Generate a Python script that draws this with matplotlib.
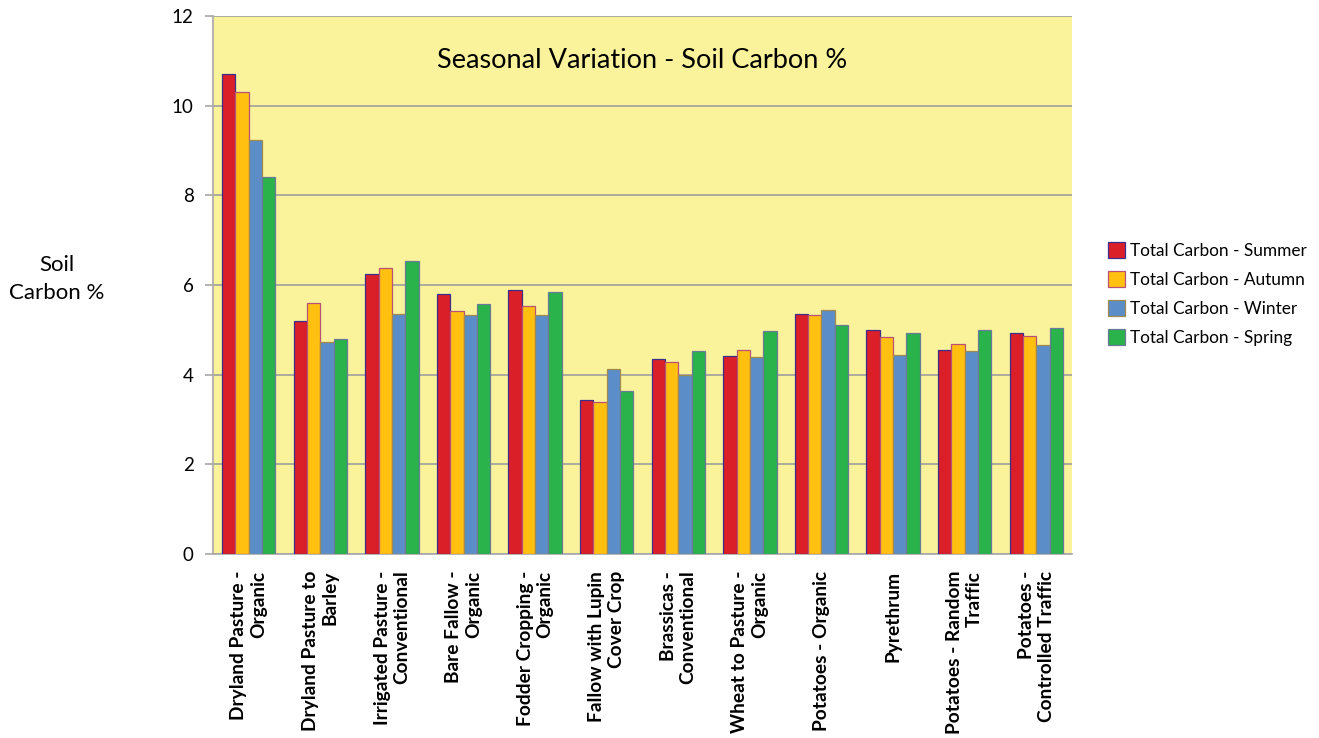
import matplotlib
matplotlib.use("Agg")
import matplotlib.pyplot as plt
import numpy as np

plt.rcParams['font.family'] = ['Lato', 'DejaVu Sans']

categories = [
    "Dryland Pasture -\nOrganic",
    "Dryland Pasture to\nBarley",
    "Irrigated Pasture -\nConventional",
    "Bare Fallow -\nOrganic",
    "Fodder Cropping -\nOrganic",
    "Fallow with Lupin\nCover Crop",
    "Brassicas -\nConventional",
    "Wheat to Pasture -\nOrganic",
    "Potatoes - Organic",
    "Pyrethrum",
    "Potatoes - Random\nTraffic",
    "Potatoes -\nControlled Traffic",
]

summer = [10.70, 5.20, 6.25, 5.80, 5.89, 3.44, 4.36, 4.42, 5.35, 5.00, 4.56, 4.93]
autumn = [10.30, 5.59, 6.39, 5.41, 5.53, 3.38, 4.29, 4.54, 5.33, 4.83, 4.69, 4.86]
winter = [9.23, 4.73, 5.35, 5.32, 5.32, 4.13, 3.99, 4.40, 5.44, 4.44, 4.52, 4.66]
spring = [8.40, 4.79, 6.53, 5.57, 5.85, 3.63, 4.52, 4.98, 5.10, 4.93, 5.00, 5.03]

series_names = [
    "Total Carbon - Summer",
    "Total Carbon - Autumn",
    "Total Carbon - Winter",
    "Total Carbon - Spring",
]
y_ticks = [0, 2, 4, 6, 8, 10, 12]

series = [summer, autumn, winter, spring]
fills = ["#DA1F28", "#FFC010", "#5B8DC8", "#2AB24B"]
edges = ["#3B2E8C", "#B8507A", "#A08A50", "#6A7A9A"]

fig = plt.figure(figsize=(13.19, 7.38), dpi=100)
ax = fig.add_axes([213 / 1319, 1 - 554 / 738, 859 / 1319, 538 / 738])
ax.set_facecolor("#FAF39B")

x = np.arange(len(categories))
width = 0.1865
for i, (vals, name) in enumerate(zip(series, series_names)):
    ax.bar(x + (i - 1.5) * width, vals, width, color=fills[i],
           edgecolor=edges[i], linewidth=0.9, label=name, zorder=3)

ax.set_xlim(-0.5, len(categories) - 0.5)
ax.set_ylim(0, 12)
ax.set_yticks(y_ticks)
ax.set_yticklabels([str(t) for t in y_ticks], fontsize=13.5)
ax.yaxis.grid(True, color="#9E9E9E", linewidth=1.2, zorder=0)
ax.set_axisbelow(True)

for s in ["top", "right"]:
    ax.spines[s].set_visible(False)
ax.spines["left"].set_color("#A8A8A8")
ax.spines["bottom"].set_color("#A8A8A8")
ax.spines["left"].set_linewidth(1.2)
ax.spines["bottom"].set_linewidth(1.2)
ax.tick_params(axis="y", length=6, color="#A8A8A8", width=1.2, pad=8)
ax.tick_params(axis="x", length=0, pad=12)

ax.set_xticks(x)
ax.set_xticklabels(categories, rotation=90, fontsize=13.8, fontweight="bold",
                   va="top", ha="center", multialignment="right")

ax.text(0.5, 0.918, "Seasonal Variation - Soil Carbon %", transform=ax.transAxes,
        ha="center", va="center", fontsize=19.5)

fig.text(57 / 1319, 1 - 279 / 738, "Soil\nCarbon %", ha="center", va="center",
         fontsize=16, linespacing=1.45)

leg = ax.legend(loc="center left", bbox_to_anchor=(1092 / 1319, 1 - 294 / 738),
                bbox_transform=fig.transFigure, frameon=False, fontsize=12.4,
                handlelength=1.0, handleheight=1.0, handletextpad=0.3,
                labelspacing=0.72)

fig.savefig("out.png", dpi=100)
